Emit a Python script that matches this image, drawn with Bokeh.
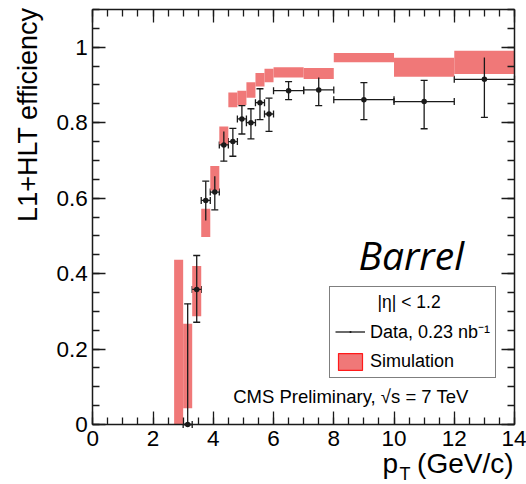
import math
from bokeh.plotting import figure
from bokeh.models import (ColumnDataSource, LinearAxis, FixedTicker, Whisker, TeeHead,
                          Legend, LegendItem, Label)
from bokeh.embed import file_html
from bokeh.resources import INLINE

# ---- data ---------------------------------------------------------------
# trigger efficiency measured in data, per pT bin (GeV/c)
data_pt = [3.15, 3.45, 3.75, 4.05, 4.35, 4.65, 4.95, 5.25, 5.55, 5.85, 6.5, 7.5, 9.0, 11.0, 13.0]
data_pt_halfwidth = [0.15, 0.15, 0.15, 0.15, 0.15, 0.15, 0.15, 0.15, 0.15, 0.15, 0.5, 0.5, 1.0, 1.0, 1.0]
data_eff = [0.0, 0.358, 0.594, 0.616, 0.741, 0.750, 0.810, 0.800, 0.853, 0.823, 0.885, 0.887, 0.861, 0.856, 0.915]
data_eff_hi = [0.320, 0.448, 0.645, 0.658, 0.777, 0.785, 0.845, 0.837, 0.890, 0.865, 0.909, 0.920, 0.906, 0.912, 0.973]
data_eff_lo = [0.0, 0.271, 0.541, 0.569, 0.698, 0.711, 0.770, 0.757, 0.808, 0.777, 0.861, 0.845, 0.808, 0.784, 0.814]

# simulated efficiency band, per pT bin
sim_left = [2.7, 3.0, 3.3, 3.6, 3.9, 4.2, 4.5, 4.8, 5.1, 5.4, 5.7, 6.0, 7.0, 8.0, 10.0, 12.0]
sim_right = [3.0, 3.3, 3.6, 3.9, 4.2, 4.5, 4.8, 5.1, 5.4, 5.7, 6.0, 7.0, 8.0, 10.0, 12.0, 14.0]
sim_lo = [0.0, 0.043, 0.287, 0.497, 0.620, 0.742, 0.841, 0.847, 0.866, 0.896, 0.907, 0.920, 0.916, 0.960, 0.922, 0.929]
sim_hi = [0.437, 0.267, 0.420, 0.572, 0.685, 0.790, 0.880, 0.885, 0.907, 0.932, 0.943, 0.947, 0.945, 0.985, 0.972, 0.991]

x_ticks = [0, 2, 4, 6, 8, 10, 12, 14]
y_ticks = [0, 0.2, 0.4, 0.6, 0.8, 1.0]

FONT = "Liberation Sans"
SIM_COLOR = "#f07878"
INK = "#1a1a1a"

X_LO, X_HI = 0, 14
Y_LO, Y_HI = 0, 1.1

# The frame spans the whole canvas; the axes sit at fixed positions inside it,
# which leaves room around the data area for the titles and annotations.
p = figure(width=526, height=484, x_range=(-3.064, 14.398), y_range=(-0.159, 1.1239),
           output_backend="svg", toolbar_location=None,
           min_border_left=0, min_border_right=0, min_border_top=0, min_border_bottom=0)
p.xgrid.visible = False
p.ygrid.visible = False
p.outline_line_color = None
p.background_fill_color = "white"
p.border_fill_color = "white"

# ---- axes (ticks inward on all four sides) -----------------------------
x_minor = [i * 0.5 for i in range(29)]
y_minor = [round(i * 0.05, 2) for i in range(23)]
xt = FixedTicker(ticks=x_ticks, minor_ticks=x_minor)
yt = FixedTicker(ticks=y_ticks, minor_ticks=y_minor)


def style_axis(ax, ticks, show_labels):
    ax.axis_line_color = INK
    ax.axis_line_width = 1.5
    ax.major_tick_line_color = INK
    ax.minor_tick_line_color = INK
    ax.major_tick_line_width = 1.3
    ax.minor_tick_line_width = 1.3
    ax.major_tick_in = 13
    ax.major_tick_out = 0
    ax.minor_tick_in = 7
    ax.minor_tick_out = 0
    if show_labels:
        ax.major_label_text_font = FONT
        ax.major_label_text_font_size = "22.5px"
        ax.major_label_text_color = "black"
    else:
        ax.major_label_overrides = {t: "" for t in ticks}


xaxis = p.xaxis[0]
yaxis = p.yaxis[0]
xaxis.ticker = xt
yaxis.ticker = yt
xaxis.bounds = (X_LO, X_HI)
yaxis.bounds = (Y_LO, Y_HI)
xaxis.fixed_location = Y_LO
yaxis.fixed_location = X_LO
style_axis(xaxis, x_ticks, True)
style_axis(yaxis, y_ticks, True)
xaxis.major_label_standoff = 6
yaxis.major_label_standoff = 5
yaxis.major_label_overrides = {0: "0", 1: "1"}

top_axis = LinearAxis(ticker=xt, bounds=(X_LO, X_HI), fixed_location=Y_HI)
right_axis = LinearAxis(ticker=yt, bounds=(Y_LO, Y_HI), fixed_location=X_HI)
style_axis(top_axis, x_ticks, False)
style_axis(right_axis, y_ticks, False)
p.add_layout(top_axis, "above")
p.add_layout(right_axis, "right")

# ---- simulation band ---------------------------------------------------
sim_src = ColumnDataSource(dict(left=sim_left, right=sim_right, bottom=sim_lo, top=sim_hi))
p.quad(left="left", right="right", bottom="bottom", top="top", source=sim_src,
       fill_color=SIM_COLOR, line_color=None)
# outlined copy, kept hidden, that supplies the legend swatch
sim_key = p.quad(left="left", right="right", bottom="bottom", top="top", source=sim_src,
                 fill_color=SIM_COLOR, line_color="#ff1a1a", line_width=1.2, visible=False)

# ---- data points with error bars ---------------------------------------
xlo = [x - w for x, w in zip(data_pt, data_pt_halfwidth)]
xhi = [x + w for x, w in zip(data_pt, data_pt_halfwidth)]
dsrc = ColumnDataSource(dict(x=data_pt, y=data_eff, ylo=data_eff_lo, yhi=data_eff_hi,
                             xlo=xlo, xhi=xhi))
hbar = p.segment(x0="xlo", x1="xhi", y0="y", y1="y", source=dsrc, line_color=INK, line_width=1.3)
p.segment(x0="x", x1="x", y0="ylo", y1="yhi", source=dsrc, line_color=INK, line_width=1.3)


def cap():
    return TeeHead(size=7, line_color=INK, line_width=1.3)


p.add_layout(Whisker(source=dsrc, base="x", lower="ylo", upper="yhi", dimension="height",
                     line_alpha=0, lower_head=cap(), upper_head=cap()))
p.add_layout(Whisker(source=dsrc, base="y", lower="xlo", upper="xhi", dimension="width",
                     line_alpha=0, lower_head=cap(), upper_head=cap()))
p.scatter(x="x", y="y", source=dsrc, marker="dot", size=22, color=INK)
# hidden marker with a heavier outline: gives the legend entry a visible dot
dot_key = p.scatter(x="x", y="y", source=dsrc, marker="dot", size=22, color=INK,
                    line_width=2.5, visible=False)

legend = Legend(items=[LegendItem(label="Data, 0.23 nb\u207b\u00b9", renderers=[hbar, dot_key]),
                       LegendItem(label="Simulation", renderers=[sim_key])],
                location=(329, 106), title=" ", title_text_font_size="18px", title_standoff=6,
                label_text_font=FONT, label_text_font_size="18px", label_text_color="black",
                glyph_width=30, glyph_height=21, label_standoff=5, spacing=8, padding=5, margin=0,
                border_line_color="black", border_line_width=1.2, background_fill_alpha=0.0,
                inactive_fill_alpha=0.0)
p.add_layout(legend)

# legend header, centred above the entries
p.add_layout(Label(x=10.50, y=0.3242, text="|\u03b7| < 1.2", text_align="center",
                   text_baseline="middle", text_font=FONT, text_font_size="17.5px",
                   text_color="black", level="overlay"))

# ---- texts -------------------------------------------------------------
p.add_layout(Label(x=4.661, y=0.0755, text="CMS Preliminary, \u221as = 7 TeV",
                   text_font=FONT, text_font_size="18.5px", text_color="black",
                   text_baseline="middle"))
p.add_layout(Label(x=8.821, y=0.4506, text="Barrel", text_font="Open Sans",
                   text_font_style="italic", text_font_size="39px", text_color="black",
                   text_baseline="middle"))

# axis titles
p.add_layout(Label(x=-2.148, y=1.1053, angle=math.pi / 2, text="L1+HLT efficiency",
                   text_align="right", text_baseline="middle", text_font=FONT,
                   text_font_size="27px", text_color="black"))
p.add_layout(Label(x=9.618, y=-0.1042, text="p", text_font=FONT, text_font_size="28px",
                   text_color="black", text_baseline="middle"))
p.add_layout(Label(x=10.183, y=-0.1310, text="T", text_font=FONT, text_font_size="18px",
                   text_color="black", text_baseline="middle"))
p.add_layout(Label(x=13.967, y=-0.1042, text="(GeV/c)", text_font=FONT, text_font_size="28px",
                   text_color="black", text_align="right", text_baseline="middle"))

open("out.html", "w").write(file_html(p, INLINE))
